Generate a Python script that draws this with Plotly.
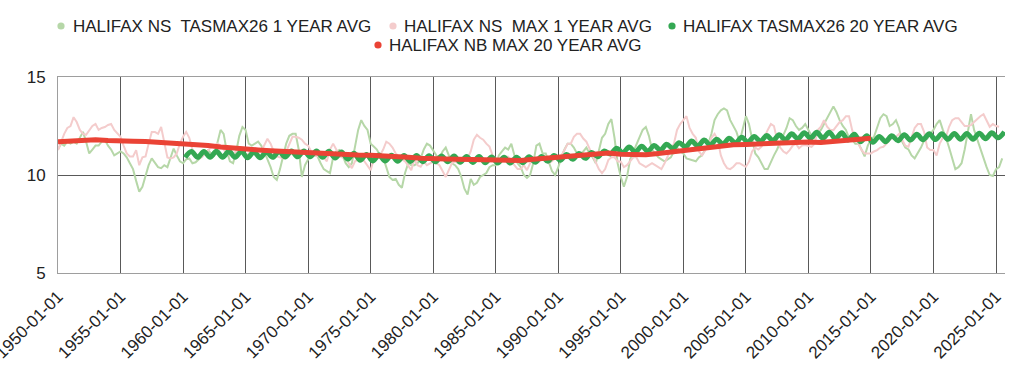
import pandas as pd
import plotly.graph_objects as go

# ---------------- data ----------------
# Quarterly values, starting 1950-01-01
tasmax26_1yr = [
    11.3, 11.6, 11.5, 11.7,   11.6, 11.7, 11.6, 11.9,   12.2, 11.7, 11.1, 11.3,   11.5, 11.5, 11.7, 11.8,
    11.5, 11.3, 11.0, 11.1,   11.2, 11.1, 10.9, 10.6,   10.3, 9.7, 9.15, 9.4,     10.0, 10.5, 10.85, 10.6,
    10.4, 10.35, 10.5, 10.4,  10.9, 11.35, 11.0, 10.7,  10.6, 10.8, 10.85, 10.6,  10.65, 10.8, 10.9, 11.1,
    11.27, 11.1, 11.0, 11.6,  12.3, 12.1, 11.2, 10.7,   10.6, 11.2, 12.0, 12.45,  12.3, 11.6, 11.5, 11.6,
    11.7, 11.5, 11.2, 10.8,   10.4, 9.9, 9.75, 10.3,    10.9, 11.6, 12.0, 12.1,   12.1, 11.3, 9.9, 10.5,
    10.8, 11.0, 11.0, 10.95,  10.6, 10.3, 10.2, 10.1,   10.9, 11.2, 11.27, 11.0,  10.6, 10.4, 10.6, 11.4,
    12.3, 12.8, 12.5, 12.3,   11.6, 11.45, 11.3, 11.0,  10.9, 10.4, 9.9, 9.75,    9.8, 9.5, 9.35, 10.1,
    10.6, 10.5, 10.5, 10.6,   10.85, 11.3, 11.6, 11.5,  11.27, 11.0, 10.85, 11.2, 11.4, 11.0, 10.6, 10.5,
    10.3, 9.9, 9.3, 9.0,      9.8, 9.5, 9.6, 9.9,       10.0, 10.1, 10.4, 10.5,   10.5, 11.0, 11.2, 11.4,
    11.3, 11.6, 11.0, 10.6,   10.4, 10.0, 9.85, 10.0,   10.6, 11.5, 11.6, 11.1,   11.1, 10.6, 10.2, 10.0,
    10.4, 10.9, 11.3, 11.6,   11.6, 11.4, 11.1, 11.0,   11.2, 11.4, 11.1, 10.9,   10.6, 11.2, 11.9, 12.1,
    12.6, 12.85, 11.9, 10.6,  9.9, 9.4, 9.9, 10.8,      11.2, 11.6, 11.95, 12.3,  12.45, 12.0, 11.3, 11.1,
    10.9, 10.8, 10.7, 10.8,   10.9, 11.2, 11.4, 11.2,   11.1, 10.85, 10.8, 10.75, 10.7, 10.9, 11.0, 11.3,
    11.6, 12.1, 12.8, 13.1,   13.3, 13.4, 13.3, 12.8,   12.5, 12.2, 11.7, 12.3,   13.0, 12.6, 11.9, 11.1,
    10.9, 10.6, 10.3, 10.3,   10.7, 11.0, 11.3, 11.7,   12.0, 12.4, 12.9, 12.8,   12.5, 12.3, 12.4, 12.6,
    12.3, 12.0, 11.9, 12.1,   12.3, 12.6, 12.9, 13.2,   13.5, 13.2, 12.8, 12.5,   12.3, 11.9, 11.8, 11.6,
    11.6, 11.3, 10.95, 11.5,  11.8, 11.95, 12.4, 12.9,  13.1, 13.0, 12.5, 12.6,   12.8, 12.4, 11.7, 11.4,
    11.3, 11.0, 10.85, 11.1,  11.4, 11.75, 11.85, 12.1, 12.3, 12.6, 12.8, 12.3,   11.9, 11.4, 10.9, 10.3,
    10.4, 10.6, 11.3, 12.3,   13.1, 12.3, 11.8, 11.3,   10.8, 10.4, 10.0, 9.95,   10.3, 10.4, 10.85,
]

# Quarterly values, starting 1950-01-01
max_1yr = [
    11.27, 11.7, 12.1, 12.4,  12.5, 12.95, 12.7, 12.3,  12.1, 12.05, 12.3, 12.5,  12.6, 12.3, 12.4, 12.45,
    12.55, 12.6, 12.3, 12.1,  11.95, 11.5, 11.1, 10.95, 10.95, 11.27, 10.5, 10.9, 10.95, 11.6, 12.2, 12.2,
    12.1, 12.45, 11.6, 10.9,  10.85, 10.9, 11.1, 11.6,  11.95, 12.2, 11.9, 11.3,  11.0, 10.9, 10.9, 11.1,
    11.27, 11.4, 11.5, 11.6,  11.5, 11.27, 11.1, 11.0,  11.1, 11.2, 11.3, 11.2,   10.9, 11.1, 11.27, 11.2,
    11.27, 11.2, 11.5, 11.85, 11.6, 11.2, 10.95, 10.9,  10.85, 11.2, 11.6, 11.95, 11.95, 11.9, 11.8, 11.6,
    11.5, 11.2, 11.0, 10.95,  11.1, 10.9, 10.7, 11.3,   11.6, 11.3, 10.95, 10.9,  10.93, 10.6, 10.35, 10.7,
    10.8, 10.9, 10.7, 10.5,   10.25, 10.8, 10.9, 11.0,  11.3, 11.7, 11.6, 11.4,   11.1, 10.95, 10.8, 10.7,
    10.5, 10.25, 10.8, 10.5,  10.42, 10.68, 10.5, 10.6, 10.68, 10.6, 10.5, 10.2,  9.9, 10.25, 10.6, 10.7,
    10.6, 10.6, 10.8, 10.85,  11.2, 11.8, 12.05, 11.9,  11.8, 11.6, 11.45, 11.0,  10.85, 10.6, 10.9, 10.93,
    10.93, 10.7, 10.5, 10.3,  10.3, 10.5, 10.25, 10.6,  10.76, 10.6, 10.7, 10.85, 10.85, 10.6, 10.7, 10.85,
    10.9, 11.0, 11.27, 11.6,  11.6, 11.95, 12.1, 12.1,  11.86, 11.7, 11.35, 11.0, 10.7, 10.3, 10.1, 10.3,
    10.76, 10.9, 10.9, 10.7,  10.68, 10.4, 10.5, 10.7,  10.9, 10.9, 10.6, 10.5,   10.4, 10.5, 10.6, 10.5,
    10.42, 10.3, 10.6, 11.0,  11.3, 11.6, 12.3, 12.6,   12.8, 13.0, 12.4, 12.1,   11.9, 11.2, 11.0, 11.27,
    11.5, 11.9, 12.1, 11.8,   11.0, 10.6, 10.35, 10.3,  10.42, 10.6, 10.6, 10.5,  10.42, 10.68, 11.2, 11.4,
    11.3, 11.44, 11.95, 12.3, 12.6, 12.5, 11.8, 11.4,   11.2, 11.1, 11.27, 11.5,  11.6, 11.36, 11.5, 11.53,
    11.5, 11.44, 11.6, 12.3,  12.46, 12.8, 12.46, 12.3, 12.29, 12.5, 12.7, 12.8,  13.0, 13.0, 12.3, 11.8,
    11.6, 11.27, 11.1, 11.1,  11.1, 11.2, 11.27, 11.4,  11.44, 11.6, 11.8, 11.95, 11.95, 12.1, 11.8, 11.5,
    11.44, 11.9, 12.4, 12.6,  12.6, 12.2, 11.4, 11.27,  11.27, 11.0, 11.6, 11.9,  11.95, 12.46, 12.8, 12.9,
    12.9, 12.7, 12.5, 12.5,   12.54, 12.7, 12.85, 13.0, 13.1, 12.8, 12.46, 12.6,  12.5, 12.46,
]

# Half-yearly values (March / September), starting 1960-03-01
tasmax26_20yr = [
    10.90, 11.20, 10.90, 11.20, 10.91, 11.21, 10.91, 11.21, 10.90, 11.20,
    10.88, 11.18, 10.88, 11.18, 10.90, 11.20, 10.92, 11.22, 10.93, 11.23,
    10.93, 11.23, 10.91, 11.21, 10.87, 11.17, 10.81, 11.11, 10.75, 11.05,
    10.72, 11.02, 10.71, 11.01, 10.70, 11.00, 10.69, 10.99, 10.68, 10.98,
    10.67, 10.97, 10.67, 10.97, 10.65, 10.95, 10.64, 10.94, 10.62, 10.92,
    10.61, 10.91, 10.61, 10.91, 10.63, 10.93, 10.65, 10.95, 10.70, 11.00,
    10.75, 11.05, 10.80, 11.10, 10.85, 11.15, 10.93, 11.23, 11.07, 11.37,
    11.13, 11.43, 11.17, 11.47, 11.21, 11.51, 11.27, 11.57, 11.35, 11.65,
    11.43, 11.73, 11.48, 11.78, 11.53, 11.83, 11.58, 11.88, 11.63, 11.93,
    11.67, 11.97, 11.71, 12.01, 11.75, 12.05, 11.80, 12.10, 11.85, 12.15,
    11.88, 12.18, 11.88, 12.18, 11.85, 12.15, 11.78, 12.08, 11.70, 12.00,
    11.67, 11.97, 11.70, 12.00, 11.75, 12.05, 11.78, 12.08, 11.80, 12.10,
    11.81, 12.11, 11.82, 12.12, 11.82, 12.12, 11.83, 12.13, 11.85, 12.15,
    11.90, 12.20,
]

# Yearly values, starting 1950-01-01
max_20yr = [
    11.70, 11.73, 11.78, 11.80, 11.76, 11.72, 11.72, 11.71, 11.68, 11.65,
    11.62, 11.56, 11.50, 11.43, 11.36, 11.31, 11.28, 11.24, 11.20, 11.16,
    11.12, 11.10, 11.06, 11.02, 11.02, 11.01, 10.99, 10.94, 10.90, 10.85,
    10.81, 10.82, 10.80, 10.79, 10.78, 10.76, 10.78, 10.74, 10.80, 10.86,
    10.90, 10.93, 10.98, 11.07, 11.12, 11.06, 11.02, 11.03, 11.10, 11.18,
    11.26, 11.31, 11.40, 11.50, 11.54, 11.56, 11.59, 11.62, 11.65, 11.68,
    11.69, 11.66, 11.72, 11.78, 11.83, 11.88,
]

tick_years = list(range(1950, 2030, 5))
tick_labels = [f"{y}-01-01" for y in tick_years]

series_names = [
    "HALIFAX NS\u00a0 TASMAX26 1 YEAR AVG",
    "HALIFAX NS\u00a0 MAX 1 YEAR AVG",
    "HALIFAX TASMAX26 20 YEAR AVG",
    "HALIFAX NB MAX 20 YEAR AVG",
]
colors = ["#b6d7a8", "#f4cccc", "#34a853", "#ea4335"]

# ---------------- figure ----------------
d_g1 = pd.date_range("1950-01-01", periods=len(tasmax26_1yr), freq="QS")
d_p1 = pd.date_range("1950-01-01", periods=len(max_1yr), freq="QS")
d_g20 = pd.date_range("1960-03-01", periods=len(tasmax26_20yr), freq="6MS")
d_r20 = pd.date_range("1950-01-01", periods=len(max_20yr), freq="YS")

fig = go.Figure()
fig.add_trace(go.Scatter(x=d_g1, y=tasmax26_1yr, mode="lines", name=series_names[0],
                         line=dict(color=colors[0], width=2)))
fig.add_trace(go.Scatter(x=d_p1, y=max_1yr, mode="lines", name=series_names[1],
                         line=dict(color=colors[1], width=2)))
fig.add_trace(go.Scatter(x=d_g20, y=tasmax26_20yr, mode="lines", name=series_names[2],
                         line=dict(color=colors[2], width=5, shape="spline", smoothing=1)))
fig.add_trace(go.Scatter(x=d_r20, y=max_20yr, mode="lines", name=series_names[3],
                         line=dict(color=colors[3], width=5)))

# Custom compact legend (dot + text), centred rows like the reference
L, R, T, B = 58, 19, 77, 98
W, H = 1024, 371
pw, ph = W - L - R, H - T - B


def px(xp):
    return (xp - L) / pw


def py(yp):
    return (H - B - yp) / ph


legend_items = [  # (dot x, text x, row y) in pixels
    (61, 71, 26),
    (393, 402, 26),
    (672, 681, 26),
    (378, 387, 45),
]
shapes = []
annotations = []
for (dx, tx, ry), name, col in zip(legend_items, series_names, colors):
    shapes.append(dict(type="circle", xref="paper", yref="paper",
                       xsizemode="pixel", ysizemode="pixel",
                       xanchor=px(dx), yanchor=py(ry),
                       x0=-3.6, x1=3.6, y0=-3.6, y1=3.6,
                       fillcolor=col, line=dict(width=0)))
    annotations.append(dict(text=name, xref="paper", yref="paper",
                            x=px(tx), y=py(ry), xanchor="left", yanchor="middle",
                            showarrow=False, font=dict(size=17, color="#222222")))

font_family = "Liberation Sans, Arial, Helvetica, sans-serif"
fig.update_layout(
    width=W, height=H,
    margin=dict(l=L, r=R, t=T, b=B, pad=0, autoexpand=False),
    paper_bgcolor="white", plot_bgcolor="white",
    showlegend=False,
    font=dict(family=font_family, size=17, color="#222222"),
    shapes=shapes,
    annotations=annotations,
)
fig.update_xaxes(
    type="date",
    range=["1950-01-01", "2025-09-20"],
    tickmode="array",
    tickvals=[f"{y}-01-01" for y in tick_years],
    ticktext=tick_labels,
    tickangle=-45,
    ticks="",
    showgrid=True, gridcolor="#595959", gridwidth=1,
    showline=True, linecolor="#9e9e9e", linewidth=1, mirror=True,
    zeroline=False,
    automargin=False,
    ticklabeloverflow="allow",
    tickfont=dict(size=17, color="#222222"),
    ticklabelstandoff=6,
)
fig.update_yaxes(
    range=[5, 15],
    tickvals=[5, 10, 15],
    ticks="",
    showgrid=True, gridcolor="#595959", gridwidth=1,
    showline=True, linecolor="#9e9e9e", linewidth=1,
    zeroline=False,
    automargin=False,
    tickfont=dict(size=17, color="#222222"),
    ticklabelstandoff=8,
)

# remove the browser's default page margin so the figure starts at the top-left corner
fig.write_html("out.html",
               config={"displayModeBar": False},
               post_script="document.body.style.margin='0';document.body.style.overflow='hidden';")
